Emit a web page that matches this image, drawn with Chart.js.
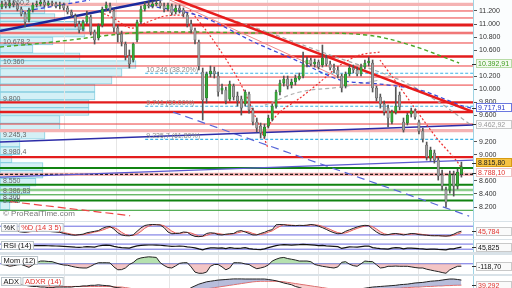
<!DOCTYPE html>
<html><head><meta charset="utf-8">
<script src="https://cdn.jsdelivr.net/npm/chart.js@4.4.1/dist/chart.umd.min.js"></script>
<style>
html,body{margin:0;padding:0;background:#d9e2e8;overflow:hidden;width:512px;height:288px}
.p{position:absolute;left:0;width:512px;background:#fff;overflow:hidden}
canvas{position:absolute;left:0;top:0}
</style></head><body>
<div class="p" style="top:0;height:221px"><canvas id="vp" width="473" height="221"></canvas><canvas id="main" width="512" height="221"></canvas></div>
<div class="p" style="top:222px;height:17px"><canvas id="st" width="512" height="17"></canvas></div>
<div class="p" style="top:240px;height:12px"><canvas id="rsi" width="512" height="12"></canvas></div>
<div class="p" style="top:255px;height:19px"><canvas id="mom" width="512" height="19"></canvas></div>
<div class="p" style="top:276px;height:32px"><canvas id="adx" width="512" height="32"></canvas></div>
<script>
// ---------------- DATA ----------------
const open = [11261,11307,11276,11322,11291,11230,11154,11062,11215,11291,
11307,11337,11291,11322,11307,11276,11291,11246,11184,11123,
11001,10924,11031,11108,10878,10786,10985,11246,11276,11200,
10939,10847,10694,10511,10450,10756,11031,11230,11291,11276,
11307,11322,11276,11230,11276,11184,11246,11215,11138,11001,
10909,10725,10266,9868,10235,10281,10205,9990,9990,9852,
10051,9898,9852,9776,9929,9684,9500,9439,9286,9439,
9546,9745,9960,10097,10159,10067,10113,10159,10205,10388,
10450,10388,10419,10373,10480,10388,10327,10297,10205,10051,
10235,10327,10297,10235,10342,10404,10404,10021,9883,9776,
9714,9500,9653,9914,9500,9485,9623,9669,9500,9363,
9148,8949,9026,8918,8689,8459,8459,8689,8520,8704];
const close = [11307,11276,11322,11291,11230,11154,11031,11215,11291,11307,
11337,11291,11322,11307,11276,11291,11246,11184,11138,11001,
10909,11031,11123,10878,10756,10970,11230,11291,11215,10939,
10847,10725,10511,10388,10694,11031,11230,11291,11276,11307,
11322,11276,11230,11291,11169,11246,11215,11154,11001,10909,
10756,10358,9837,10235,10281,10235,9960,10021,9822,10082,
9883,9822,9714,9960,9684,9500,9408,9332,9424,9562,
9745,9960,10097,10159,10051,10113,10174,10205,10388,10450,
10388,10419,10342,10480,10388,10327,10297,10220,10021,10235,
10327,10297,10235,10342,10404,10434,10021,9868,9776,9653,
9562,9653,9745,9730,9378,9607,9669,9577,9363,9240,
8964,9072,8918,8674,8520,8275,8704,8520,8735,8815.8];
const high = [11353,11337,11368,11353,11322,11261,11184,11246,11322,11353,
11368,11368,11353,11353,11337,11337,11322,11276,11215,11154,
11047,11062,11200,11138,10909,11001,11261,11337,11322,11230,
10985,10893,10725,10603,10710,11062,11276,11337,11353,11353,
11368,11353,11322,11322,11307,11291,11291,11246,11169,11062,
10939,10756,10327,10266,10358,10342,10266,10082,10036,10128,
10082,9960,9898,9990,9960,9714,9562,9485,9470,9607,
9776,9990,10143,10205,10205,10159,10220,10251,10572,10495,
10480,10465,10450,10679,10526,10434,10388,10342,10235,10266,
10373,10373,10342,10388,10450,10495,10450,10051,9929,9822,
9760,9684,10036,9960,9562,9638,9714,9699,9531,9408,
9194,9117,9072,8964,8765,8505,8750,8750,8781,8888];
const low = [11230,11246,11246,11261,11200,11123,10955,11031,11184,11261,
11276,11261,11276,11276,11246,11230,11215,11154,11108,10955,
10863,10893,11001,10832,10694,10756,10955,11200,11169,10878,
10725,10664,10450,10327,10419,10725,11001,11200,11246,11246,
11276,11246,11184,11200,11138,11154,11169,11108,10955,10863,
10694,10297,9531,9791,10189,10174,9898,9929,9776,9822,
9837,9745,9607,9745,9638,9455,9347,9255,9255,9408,
9516,9714,9914,10051,10005,10021,10067,10143,10174,10342,
10358,10342,10312,10342,10358,10297,10251,10174,9960,10021,
10205,10251,10205,10205,10312,10358,9960,9822,9714,9607,
9424,9470,9623,9684,9347,9455,9577,9546,9317,9194,
8918,8903,8872,8612,8459,8199,8413,8367,8475,8658];

const stochK = [55,50,48,52,45,40,38,42,50,60,55,48,45,42,40,38,30,25,20,18,22,25,35,40,45,50,65,75,78,60,35,20,15,14,20,45,68,85,90,92,90,88,70,40,28,30,32,40,38,20,10,8,12,30,35,32,22,20,25,28,30,45,50,40,30,20,20,30,38,50,56,90,92,90,86,85,84,86,85,87,92,88,80,70,58,45,35,28,30,45,55,65,75,82,86,84,60,40,25,20,22,28,30,25,20,25,30,28,22,20,18,15,14,15,13,12,15,25,38,45.784];
const stochD = [52,52,51,50,49,46,42,41,44,50,55,54,50,46,43,40,36,31,25,21,20,22,27,33,40,45,53,63,73,71,58,38,23,16,16,26,44,66,81,89,91,90,83,66,46,33,30,34,37,33,23,13,10,17,26,32,30,25,22,24,28,34,41,45,40,30,23,23,29,39,48,65,79,91,89,87,85,85,85,86,88,89,87,79,69,58,46,36,31,34,43,55,65,74,81,84,77,61,42,28,22,23,27,28,25,23,25,28,27,23,20,17,16,15,14,13,13,17,26,36];
const rsi = [58,57,58,59,57,55,52,54,57,58,59,58,57,56,55,54,52,50,48,46,45,47,50,48,46,55,60,62,60,52,46,42,40,38,48,56,60,62,63,63,62,61,58,55,52,53,54,53,48,45,40,32,25,35,40,41,38,40,35,42,38,36,38,42,34,30,28,27,33,42,50,58,63,65,64,62,64,65,67,66,64,62,58,60,56,54,52,50,36,42,48,47,46,50,54,55,42,38,35,33,31,38,42,40,33,38,38,37,34,33,29,31,30,28,27,25,33,32,41,45.825];
const mom = [-35,-60,-121,-90,-50,-35,-100,-172,-60,60,
131,131,110,101,40,-20,-60,-71,-120,-160,
-190,-202,-202,-120,-20,50,50,50,40,-150,
-288,-280,-200,-35,60,217,280,310,333,320,
303,50,-80,-180,-202,-100,20,50,50,-150,
-400,-455,-455,-400,-120,-35,-35,-150,-288,-200,
50,50,40,-10,-35,-150,-237,-200,-150,-60,
131,217,280,303,250,217,180,131,131,131,
100,-35,-80,-121,-150,-180,-202,-150,70,101,
-20,-90,-121,0,131,110,101,-50,-202,-180,
-121,-121,-110,-121,-121,-121,-150,-180,-202,-202,
-260,-300,-340,-374,-420,-455,-288,-200,-121,-118.7];
const adx = [40,41,42,42,41,40,39,38,37,37,36,36,35,35,36,36,36,36,36,37,37,38,38,39,39,39.8,39,38.5,38,36,35,34,32,30,28,27,26,27,28,30,31,31,30,29,28,27,26,27,30,35,38,41,43,45,46,47,48,48.5,49,49.5,50,50,50,49.8,49.8,49.8,49.8,49.8,49.8,49,48,46.8,45,43,41.5,40,37,35.3,33,31,30,29,28,27,27,27,27,28,29,30,30,31,32,33,34,35,36,36.5,37,37.5,38,38.5,39,40,40.5,41,42,43,43.5,44,45,46,46.5,47,48,49,49.8,49.8,49,48];
const adxr = [42,42,42,41,41,41,40,40,40,39,39,39,38,38,38,38,37,37,37,37,37,37,37,37,37,37,37,37,37,36,36,36,35,34,33,33,32,32,32,32,31,31,31,30,30,30,29,29,29,30,30,31,32,33,34,35,36,37,38,39,40,41,42,43,44,45,45.5,46,46,46,46,46,45.5,45,44,43,42,41,40,39,38,37,36,35,34,33,32,31,30,30,29.5,29.5,29.5,30,30,30,31,31,32,32,33,33,34,34,35,35,35.5,36,36,36.5,37,37,37.5,38,38,38.5,38.5,39,39.2,39.292];

// volume profile (price bin centre, volume)
const vpPrice = [11340,11220,11100,10980,10860,10740,10620,10500,10380,10260,10140,10020,9900,9780,9660,9540,9420,9300,9180,9060,8940,8820,8700,8580,8460,8340,8220];
const vpVol   = [70,45,55,85,85,53,33,80,136,122,112,95,95,89,89,60,60,45,20,20,12,43,43,36,30,18,10];

// price axis ticks & vertical grid positions (candle index)
const yTicks = [11200,11000,10800,10600,10200,10000,9800,9600,9200,9000,8600,8400,8200];
const gridIdx = [16.3,29.8,43.5,56,68.9,82.1,95.1,108];

// horizontal levels
const redThin = [11200,11093,10863,10710,10358,10189,10066,9470];
const redThick = [10986,10503,9802,9653,8964];
const pinkBands = [11300,10863,9370,8700];
const fibLevels = [10246,9741,9235.7];
const fibTexts = ['10.246 (38.20%)','9.741 (50.00%)','9.235,7 (61.80%)'];
const greenThick = [8796,8540,8300];
const greenLight = [8462];
const greenThin = [8386.83,8150];
const blackDashed = [8700];
const leftLabelValues = [11260.2,10678.2,10360,9800,9245.3,8980.4,8550,8386.83,8300,8245];
const leftLabelTexts = ['11.260,2','10.678,2','10.360','9.800','9.245,3','8.980,4','8.550','8.386,83','8.300','8.245'];

// trend lines / arcs: [candle index, price]
const navyThick = [[-0.5,10894],[51.3,11499]];
const redTrend = [[38.35,11525],[122,9656]];
const redThinTrend = [[43.5,11368],[87.6,10174]];
const blueDashA = [[4.7,11185],[22.8,11368]];
const blueDash = [[38.35,11277],[51.3,11123],[65.8,10710],[77.2,10419],[87.6,10143],[97.9,10082],[108.3,9990],[118.6,9760],[121.5,9715]];
const grayDash = [[48.7,11277],[65.8,10940],[85,10526],[103.1,10143],[113.5,9791],[121.5,9454]];
const grayArc = [[68.1,9760],[77.2,9960],[87.6,10036],[97.9,10143]];
const redArc1 = [[25.4,11185],[28.8,11093],[33.2,10940],[35.8,10986],[39.1,11062],[42.2,11123],[47.4,11139]];
const redDesc1 = [[48.7,11215],[54.7,10756],[61.7,10097],[67.4,9332],[68.9,9102]];
const redRise = [[67.4,9332],[72.0,9653],[77.2,9868],[82.4,10113],[87.6,10373],[92.7,10526],[97.9,10572]];
const redDesc2 = [[97.9,10450],[102.3,10097],[112.4,9270],[117.6,8918],[119.7,8735]];
const greenArc = [[-0.5,10649],[13.2,10725],[33.9,10863],[47.9,10878],[65.8,10863],[77.2,10863],[94.3,10832],[105.7,10679],[118.4,10404]];
const navyThin = [[-0.5,9194],[122,9455]];
const purpleThin = [[-0.5,8658],[122,8919]];
const blueLong = [[44.3,9653],[121,8061]];
const redLong = [[2.1,8283],[33.2,8068]];

const tagValues = [10392.91,9717.91,9462.92,8815.80,8788.10];

// ---------------- HELPERS ----------------
const XMIN=-0.5, XMAX=122, YMIN=7986, YMAX=11368;
const FONT='"Liberation Sans", Arial, sans-serif';
Chart.defaults.font.family = FONT;
Chart.defaults.font.size = 7;
function fmtK(v){const t=Math.round(v);return Math.floor(t/1000)+'.'+String(t%1000).padStart(3,'0');}
function fmtDec(v,d){const s=v.toFixed(d).split('.');const n=Math.abs(+s[0]);const sign=v<0?'-':'';
  const ip = n>=1000? Math.floor(n/1000)+'.'+String(n%1000).padStart(3,'0') : String(n); return sign+ip+','+s[1];}
function noPad(s){s.paddingTop=0;s.paddingBottom=0;s.paddingLeft=0;s.paddingRight=0;}
function xCfg(){return {type:'linear',min:XMIN,max:XMAX,offset:false,
  afterBuildTicks:s=>{s.ticks=gridIdx.map(v=>({value:v}));},
  afterFit:s=>{s.height=0;noPad(s);},
  ticks:{display:false},grid:{color:'#e6e6e6',drawTicks:false,offset:false},border:{display:false}};}
function ySub(min,max){return {type:'linear',position:'right',min,max,afterFit:s=>{s.width=39;noPad(s);},
  ticks:{display:false},grid:{display:false},border:{color:'#9fd3e3'}};}
function hline(v,color,width,dash,order,x0){return {type:'line',data:[{x:x0===undefined?XMIN:x0,y:v},{x:XMAX,y:v}],
  borderColor:color,borderWidth:width,borderDash:dash||[],pointRadius:0,order:order,clip:0};}
function pline(pts,color,width,dash,tension,order){return {type:'line',data:pts.map(p=>({x:p[0],y:p[1]})),
  borderColor:color,borderWidth:width,borderDash:dash||[],pointRadius:0,tension:tension||0,order:order,clip:0};}
function series(arr){return arr.map((v,i)=>({x:i,y:v}));}
function drawTag(ctx,x,y,text,fg,bg,bd){
  const w=36,h=9;ctx.save();
  ctx.strokeStyle='#333';ctx.lineWidth=1;ctx.beginPath();ctx.moveTo(x-4,Math.round(y)+0.5);ctx.lineTo(x,Math.round(y)+0.5);ctx.stroke();
  const top=Math.round(y-h/2);
  ctx.fillStyle=bg;ctx.fillRect(x,top,w,h);
  ctx.strokeStyle=bd;ctx.strokeRect(x+0.5,top+0.5,w-1,h-1);
  ctx.font='7px '+FONT;ctx.fillStyle=fg;ctx.textBaseline='middle';ctx.textAlign='left';
  ctx.fillText(text,x+2,top+h/2+0.5);ctx.restore();}
function drawPanelLabels(ctx,items){
  let x=1;ctx.save();ctx.font='7.5px '+FONT;ctx.textBaseline='middle';
  items.forEach(it=>{const w=ctx.measureText(it.t).width+5;
    ctx.fillStyle='rgba(255,255,255,0.92)';ctx.fillRect(x,1,w,9);
    ctx.strokeStyle='#b9c3c9';ctx.lineWidth=1;ctx.strokeRect(x+0.5,1.5,w-1,8);
    ctx.fillStyle=it.c;ctx.fillText(it.t,x+2.5,6);x+=w+1;});
  ctx.restore();}
const baseOpts = {responsive:false,animation:false,devicePixelRatio:1,
  layout:{padding:0,autoPadding:false},plugins:{legend:{display:false},tooltip:{enabled:false}}};

// ---------------- VOLUME PROFILE ----------------
new Chart(document.getElementById('vp'),{type:'bar',
  data:{datasets:[{data:vpPrice.map((p,k)=>({x:vpVol[k],y:p})),backgroundColor:'#d4f0f6',borderColor:'#88cfe1',
    borderWidth:1,borderSkipped:false,barPercentage:1,categoryPercentage:1,grouped:false}]},
  options:Object.assign({},baseOpts,{indexAxis:'y',scales:{
    y:{type:'linear',min:YMIN,max:YMAX,display:false,offset:false},
    x:{type:'linear',min:0,max:473,display:false}}})});

// ---------------- MAIN CHART ----------------
const ds=[];
ds.push({type:'bar',data:close.map((c,i)=>({x:i,y:[open[i],c]})),
  backgroundColor:close.map((c,i)=>c>=open[i]?'#3aa83b':'#a3a3a3'),
  borderColor:close.map((c,i)=>c>=open[i]?'#1e7a20':'#585858'),
  borderWidth:0.6,borderSkipped:false,barThickness:2.4,grouped:false,order:0});
ds.push({type:'bar',data:high.map((h,i)=>({x:i,y:[low[i],h]})),backgroundColor:'#555',barThickness:1,grouped:false,order:1});
// trend lines
ds.push(pline(navyThick,'#1b2a9c',2.5,[],0,2));
ds.push(pline(redTrend,'#e81c1c',2.5,[],0,2));
ds.push(pline(redThinTrend,'#f08a8a',1,[],0,2));
ds.push(pline(blueDashA,'#3a48d8',1.3,[4,3],0,2));
ds.push(pline(blueDash,'#3a48d8',1.3,[4,3],0.3,2));
ds.push(pline(grayDash,'#a8a8a8',1.2,[4,3],0.3,2));
ds.push(pline(grayArc,'#b0b0b0',1.2,[4,3],0.4,2));
ds.push(pline(redArc1,'#e33',1.2,[2,2],0.4,2));
ds.push(pline(redDesc1,'#e33',1.2,[2,2],0.3,2));
ds.push(pline(redRise,'#e33',1.2,[2,2],0.3,2));
ds.push(pline(redDesc2,'#e33',1.2,[2,2],0.3,2));
ds.push(pline(greenArc,'#4aa526',1.4,[4,3],0.4,2));
ds.push(pline(navyThin,'#2c2ca8',1.5,[],0,2));
ds.push(pline(purpleThin,'#5a5ad0',1.2,[],0,2));
ds.push(pline(blueLong,'#5766d8',1.2,[8,5],0,2));
ds.push(pline(redLong,'#e44',1.2,[8,4],0,2));
// levels
redThin.forEach(v=>ds.push(hline(v,'#ec3d3d',1,[],3)));
redThick.forEach((v,k)=>ds.push(hline(v,'#e31d1d',k===0?3:2.4,[],3)));
fibLevels.forEach(v=>ds.push(hline(v,'#3db3e6',1.1,[3,2],3,37.1)));
greenThick.forEach(v=>ds.push(hline(v,'#118311',2,[],3)));
greenLight.forEach(v=>ds.push(hline(v,'#8ccf8c',2.5,[],3)));
greenThin.forEach(v=>ds.push(hline(v,'#2a9a2a',1,[],3)));
blackDashed.forEach(v=>ds.push(hline(v,'#222',1.2,[3,2],2.5)));
pinkBands.forEach(v=>ds.push(hline(v,'#f5b3b3',3.2,[],4)));

const tagStyles=[['#3d9b1e','#f3faef','#b7dba6'],['#1f2fc8','#ffffff','#6a78e0'],['#9a9a9a','#fcfcfc','#c8c8c8'],['#222','#f6c343','#d79b12'],['#e2342f','#ffffff','#efc3c3']];
const mainDeco={id:'mainDeco',
  beforeDraw(ch){const c=ch.ctx,a=ch.chartArea;c.save();c.fillStyle='#fbfdfe';c.fillRect(a.right,0,ch.width-a.right,ch.height);c.restore();},
  afterDraw(ch){const c=ch.ctx,y=ch.scales.y,x=ch.scales.x;
    c.save();c.font='7px '+FONT;c.textBaseline='middle';c.textAlign='left';c.fillStyle='#666';
    leftLabelValues.forEach((v,k)=>c.fillText(leftLabelTexts[k],3,y.getPixelForValue(v)-3.5));
    c.fillStyle='#8a8a8a';
    fibLevels.forEach((v,k)=>c.fillText(fibTexts[k],x.getPixelForValue(37.4),y.getPixelForValue(v)-3.5));
    c.font='8px '+FONT;c.fillStyle='#7a7a7a';c.fillText('\u00A9 ProRealTime.com',3,214);
    c.restore();
    const ys=tagValues.map(v=>y.getPixelForValue(v));
    const ord=ys.map((v,i)=>i).sort((a,b)=>ys[a]-ys[b]);
    for(let k=1;k<ord.length;k++){const a=ord[k-1],b=ord[k];if(ys[b]-ys[a]<10){const m=(ys[a]+ys[b])/2;ys[a]=m-5;ys[b]=m+5;}}
    tagValues.forEach((v,k)=>drawTag(c,476,ys[k],fmtDec(v,2),tagStyles[k][0],tagStyles[k][1],tagStyles[k][2]));
  }};
new Chart(document.getElementById('main'),{type:'bar',data:{datasets:ds},
  options:Object.assign({},baseOpts,{scales:{x:xCfg(),
    y:{type:'linear',position:'right',min:YMIN,max:YMAX,
      afterBuildTicks:s=>{s.ticks=yTicks.map(v=>({value:v}));},afterFit:s=>{s.width=39;noPad(s);},
      ticks:{callback:v=>fmtK(v),color:'#333',padding:2,autoSkip:false,font:{size:7}},
      grid:{drawOnChartArea:false,tickLength:4,color:'#555'},border:{color:'#9fd3e3'}}}}),
  plugins:[mainDeco]});

// ---------------- INDICATOR PANELS ----------------
function panel(id,datasets,ymin,ymax,labels,tagVal,tagText,tagFg){
  new Chart(document.getElementById(id),{type:'line',data:{datasets},
    options:Object.assign({},baseOpts,{scales:{x:xCfg(),y:ySub(ymin,ymax)}}),
    plugins:[{id:'deco'+id,afterDraw(ch){const c=ch.ctx;drawPanelLabels(c,labels);
      drawTag(c,476,ch.scales.y.getPixelForValue(tagVal),tagText,tagFg,'#fafafa','#c9c9c9');}}]});}
const lvl='#6b6be0';
panel('st',[
  {data:series(stochK),borderColor:'#222',borderWidth:1,pointRadius:0,order:0},
  {data:series(stochD),borderColor:'#e8605a',borderWidth:1,pointRadius:0,order:1,
    fill:{target:0,above:'rgba(240,150,150,0.45)',below:'rgba(240,150,150,0.45)'}},
  hline(80,lvl,1,[],2),hline(20,lvl,1,[],2)],-8,109,
  [{t:'%K',c:'#111'},{t:'%D (14 3 5)',c:'#e2342f'}],stochK[stochK.length-1],fmtDec(stochK[stochK.length-1],3),'#e2342f');
panel('rsi',[
  {data:series(rsi),borderColor:'#111',borderWidth:1.2,pointRadius:0,order:0},
  hline(70,lvl,1,[],2),hline(30,lvl,1,[],2)],8,102,
  [{t:'RSI (14)',c:'#111'}],rsi[rsi.length-1],fmtDec(rsi[rsi.length-1],3),'#111');
panel('mom',[
  {data:series(mom),borderColor:'#222',borderWidth:1,pointRadius:0,order:0,
    fill:{target:{value:0},above:'rgba(120,200,110,0.55)',below:'rgba(232,140,140,0.5)'}},
  hline(0,lvl,1,[],2)],-490,420,
  [{t:'Mom (12)',c:'#111'}],mom[mom.length-1],fmtDec(mom[mom.length-1],2),'#111');
panel('adx',[
  {data:series(adx),borderColor:'#222',borderWidth:1,pointRadius:0,order:0,
    fill:{target:1,above:'rgba(135,145,195,0.6)',below:'rgba(240,160,160,0.5)'}},
  {data:series(adxr),borderColor:'#e8605a',borderWidth:1,pointRadius:0,order:1}],0,55,
  [{t:'ADX',c:'#111'},{t:'ADXR (14)',c:'#e2342f'}],adxr[adxr.length-1],fmtDec(adxr[adxr.length-1],3),'#e2342f');
</script></body></html>
